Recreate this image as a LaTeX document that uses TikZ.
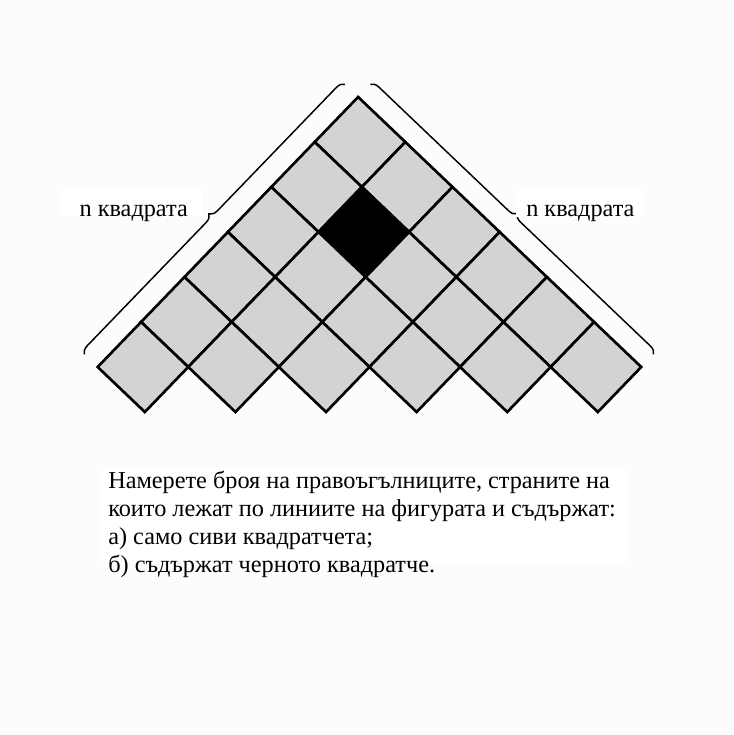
\documentclass[tikz,border=0pt]{standalone}
\usepackage{fontspec}
\setmainfont{Liberation Serif}
\usepackage{tikz}
\usetikzlibrary{positioning,decorations.pathreplacing}
\definecolor{cellGray}{RGB}{211,211,211}
\definecolor{pageGray}{RGB}{252,252,252}

\begin{document}
\begin{tikzpicture}[x=0.75pt,y=-0.75pt,
	cell/.style={line width=2pt,line join=miter,draw=black,fill=cellGray},
	blackcell/.style={cell,fill=black},
	brace/.style={line width=1.1pt,decorate,decoration={brace,amplitude=6pt}},
	tagbox/.style={fill=white,inner xsep=7.5pt,inner ysep=0pt,text height=21pt,text depth=0pt,font=\fontsize{18.2}{21}\selectfont}]
		\useasboundingbox[fill=pageGray] (0,0) rectangle (734,735);
		%\draw[help lines,step=45] (0,0) grid (734,735);
		\begin{scope}[shift={(360,142)},xslant=-0.042,x=33.975pt,y=-33.75pt]
		% squares
		\draw[cell] (0,0) +(-1,0) -- +(0,-1) -- +(1,0) -- +(0,1) -- cycle;
		\draw[cell] (-1,1) +(-1,0) -- +(0,-1) -- +(1,0) -- +(0,1) -- cycle;
		\draw[cell] (1,1) +(-1,0) -- +(0,-1) -- +(1,0) -- +(0,1) -- cycle;
		\draw[cell] (-2,2) +(-1,0) -- +(0,-1) -- +(1,0) -- +(0,1) -- cycle;
		\draw[blackcell] (0,2) +(-1,0) -- +(0,-1) -- +(1,0) -- +(0,1) -- cycle;
		\draw[cell] (2,2) +(-1,0) -- +(0,-1) -- +(1,0) -- +(0,1) -- cycle;
		\draw[cell] (-3,3) +(-1,0) -- +(0,-1) -- +(1,0) -- +(0,1) -- cycle;
		\draw[cell] (-1,3) +(-1,0) -- +(0,-1) -- +(1,0) -- +(0,1) -- cycle;
		\draw[cell] (1,3) +(-1,0) -- +(0,-1) -- +(1,0) -- +(0,1) -- cycle;
		\draw[cell] (3,3) +(-1,0) -- +(0,-1) -- +(1,0) -- +(0,1) -- cycle;
		\draw[cell] (-4,4) +(-1,0) -- +(0,-1) -- +(1,0) -- +(0,1) -- cycle;
		\draw[cell] (-2,4) +(-1,0) -- +(0,-1) -- +(1,0) -- +(0,1) -- cycle;
		\draw[cell] (0,4) +(-1,0) -- +(0,-1) -- +(1,0) -- +(0,1) -- cycle;
		\draw[cell] (2,4) +(-1,0) -- +(0,-1) -- +(1,0) -- +(0,1) -- cycle;
		\draw[cell] (4,4) +(-1,0) -- +(0,-1) -- +(1,0) -- +(0,1) -- cycle;
		\draw[cell] (-5,5) +(-1,0) -- +(0,-1) -- +(1,0) -- +(0,1) -- cycle;
		\draw[cell] (-3,5) +(-1,0) -- +(0,-1) -- +(1,0) -- +(0,1) -- cycle;
		\draw[cell] (-1,5) +(-1,0) -- +(0,-1) -- +(1,0) -- +(0,1) -- cycle;
		\draw[cell] (1,5) +(-1,0) -- +(0,-1) -- +(1,0) -- +(0,1) -- cycle;
		\draw[cell] (3,5) +(-1,0) -- +(0,-1) -- +(1,0) -- +(0,1) -- cycle;
		\draw[cell] (5,5) +(-1,0) -- +(0,-1) -- +(1,0) -- +(0,1) -- cycle;
		% brace ends
		\coordinate (leftLow) at (-6.28,4.72);
		\coordinate (leftTop) at (-0.28,-1.28);
		\coordinate (rightTop) at (0.28,-1.28);
		\coordinate (rightLow) at (6.28,4.72);
		\end{scope}
		% braces
		\draw[brace] (leftLow) -- (leftTop);
		\draw[brace] (rightTop) -- (rightLow);
		% labels
		\node[tagbox,anchor=base west] (leftLabel) at (60,216) {\hspace*{7pt}n квадрата\hspace*{3.5pt}};
		\node[tagbox,anchor=base west] (rightLabel) at (516,216.7) {n квадрата};
		% task
		\fill[white] (100,468) rectangle (627,563);
		\node[anchor=north west,inner sep=0pt,align=left,font=\fontsize{18.2}{21}\selectfont] (task) at (108,471)
			{Намерете броя на правоъгълниците, страните на\\
			 които лежат по линиите на фигурата и съдържат:\\
			 а) само сиви квадратчета;\\
			 б) съдържат черното квадратче.};
		\end{tikzpicture}
\end{document}
